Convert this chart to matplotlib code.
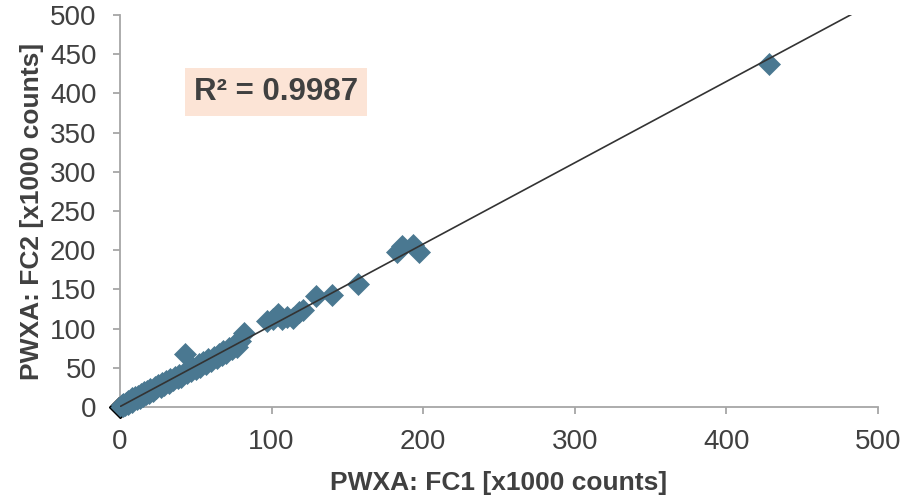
import numpy as np
import matplotlib.pyplot as plt

# FC1 vs FC2 counts (x1000)
fc1 = [1, 2, 2, 3, 4, 5, 5, 6, 7, 8, 8, 9, 10, 11, 12, 13, 14, 15, 16, 17,
       18, 19, 20, 22, 23, 24, 25, 27, 28, 29, 30, 32, 33, 35, 36, 38, 39, 40,
       42, 44, 45, 47, 48, 50, 52, 53, 55, 57, 58, 60, 62, 64, 65, 67, 68, 70,
       72, 74, 75, 77, 43, 76, 79, 82,
       97, 101, 104, 107, 110, 114, 118, 121,
       129, 140, 157,
       183, 186, 193, 197,
       428]
fc2 = [2, 1, 4, 3, 5, 4, 8, 6, 9, 7, 12, 10, 13, 10, 14, 12, 16, 14, 19, 16,
       20, 18, 23, 21, 26, 24, 28, 26, 31, 28, 33, 31, 36, 34, 38, 37, 41, 38,
       44, 43, 47, 46, 50, 48, 55, 51, 57, 55, 61, 59, 64, 62, 68, 66, 71, 69,
       75, 74, 78, 76, 68, 80, 84, 94,
       110, 112, 118, 112, 115, 113, 121, 124,
       141, 143, 157,
       198, 205, 207, 198,
       437]
zero_point = ([0], [0])
r2_label = "R² = 0.9987"

plt.rcParams['font.family'] = ['Liberation Sans', 'DejaVu Sans']

fig = plt.figure(figsize=(9.19, 4.98), dpi=100)
ax = fig.add_axes([0.1306, 0.1827, 0.8248, 0.7872])

marker_color = '#4a7891'
ax.plot(zero_point[0], zero_point[1], linestyle='none', marker='D', ms=11,
        mfc=marker_color, mec='black', mew=1.0, zorder=2, clip_on=False)
ax.plot(fc1, fc2, linestyle='none', marker='D', ms=11,
        mfc=marker_color, mec=marker_color, mew=0.5, zorder=3, clip_on=False)

# linear trendline
slope, intercept = np.polyfit(fc1, fc2, 1)
xs = np.array([0, 500])
ax.plot(xs, slope * xs + intercept, color='#333333', lw=1.2, zorder=4)

ax.set_xlim(0, 500)
ax.set_ylim(0, 500)
ax.set_xticks(np.arange(0, 501, 100))
ax.set_yticks(np.arange(0, 501, 50))

for s in ['top', 'right']:
    ax.spines[s].set_visible(False)
for s in ['left', 'bottom']:
    ax.spines[s].set_color('#a6a6a6')
    ax.spines[s].set_linewidth(1.3)
ax.tick_params(direction='out', length=5, width=1.3, color='#a6a6a6',
               labelsize=20, labelcolor='#404040')
ax.tick_params(axis='y', pad=12)
ax.tick_params(axis='x', pad=11)

ax.set_xlabel('PWXA: FC1 [x1000 counts]', fontsize=19, fontweight='bold',
              color='#404040', labelpad=11)
ax.set_ylabel('PWXA: FC2 [x1000 counts]', fontsize=19, fontweight='bold',
              color='#404040', labelpad=4)

ax.text(0.206, 0.804, r2_label, transform=ax.transAxes, fontsize=22.5,
        fontweight='bold', color='#404040', ha='center', va='center',
        bbox=dict(boxstyle='square,pad=0.28', fc='#fce4d6', ec='none'))

fig.savefig('out.png', dpi=100)
